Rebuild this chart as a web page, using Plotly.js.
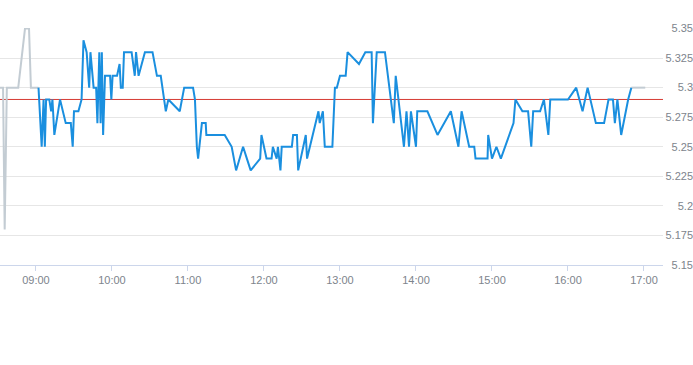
<!DOCTYPE html>
<html>
<head>
<meta charset="utf-8">
<script src="https://cdn.plot.ly/plotly-3.0.1.min.js"></script>
<style>
  html, body { margin: 0; padding: 0; background: #ffffff; }
  #chart { width: 693px; height: 365px; }
</style>
</head>
<body>
<div id="chart"></div>
<script>
// ---- data ----
const tradeDay = '2024-01-02 ';

const preTimes  = ['08:31:36','08:34:00','08:35:18','08:37:00','08:46:00','08:51:20','08:54:30','08:56:00','09:02:00'];
const preValues = [5.30, 5.30, 5.18, 5.30, 5.30, 5.35, 5.35, 5.30, 5.30];

const sessionTimes = [
  '09:02:00','09:04:30','09:06:00','09:07:00','09:08:00','09:10:30','09:12:00','09:13:00','09:14:30','09:19:00',
  '09:23:30','09:27:30','09:29:00','09:30:00','09:33:30','09:36:00','09:37:30','09:40:00','09:42:00','09:43:00',
  '09:45:30','09:47:30','09:48:30','09:50:00','09:51:00','09:52:00','09:53:00','09:54:30','09:58:30','09:59:30',
  '10:00:30','10:04:00','10:06:00','10:07:00','10:08:30','10:09:30','10:15:30','10:18:00','10:19:00','10:21:00',
  '10:23:30','10:26:00','10:32:00','10:35:30','10:38:30','10:40:00','10:42:30','10:44:30','10:53:30','10:57:00',
  '11:04:00','11:05:30','11:07:00','11:08:00','11:11:00','11:14:00','11:14:30','11:29:00','11:34:30','11:38:00',
  '11:43:30','11:46:30','11:49:30','11:57:00','11:58:00','12:02:00','12:06:00','12:07:00','12:10:00','12:11:00',
  '12:13:00','12:14:00','12:22:00','12:23:00','12:26:00','12:27:00','12:33:00','12:34:00','12:43:00','12:44:00',
  '12:46:30','12:48:00','12:54:00','12:56:00','12:57:30','13:00:00','13:04:30','13:06:00','13:15:00','13:20:00',
  '13:25:00','13:26:00','13:29:00','13:35:30','13:42:30','13:44:00','13:50:30','13:52:30','13:54:30','13:56:00',
  '14:00:00','14:01:00','14:09:00','14:17:00','14:27:30','14:33:30','14:36:00','14:42:00','14:46:00','14:47:00',
  '14:56:30','14:57:00','15:00:00','15:03:30','15:07:00','15:17:00','15:18:30','15:24:00','15:28:30','15:31:00',
  '15:32:30','15:38:00','15:41:00','15:44:30','15:46:00','16:00:00','16:06:30','16:11:30','16:15:30','16:22:00',
  '16:28:30','16:32:00','16:35:30','16:37:00','16:39:00','16:42:00','16:47:30','16:50:00'
];
const sessionValues = [
  5.30,5.25,5.29,5.25,5.29,5.29,5.28,5.29,5.26,5.29,
  5.27,5.27,5.25,5.28,5.28,5.29,5.34,5.33,5.30,5.33,
  5.30,5.30,5.27,5.33,5.27,5.33,5.26,5.31,5.31,5.29,
  5.31,5.31,5.32,5.30,5.30,5.33,5.33,5.31,5.33,5.31,
  5.32,5.33,5.33,5.31,5.31,5.30,5.28,5.29,5.28,5.30,
  5.30,5.29,5.25,5.24,5.27,5.27,5.26,5.26,5.25,5.23,
  5.25,5.24,5.23,5.24,5.26,5.24,5.24,5.25,5.24,5.25,
  5.23,5.25,5.25,5.26,5.26,5.23,5.26,5.24,5.28,5.27,
  5.28,5.25,5.25,5.30,5.30,5.31,5.31,5.33,5.32,5.33,
  5.33,5.27,5.33,5.33,5.27,5.31,5.25,5.28,5.25,5.28,
  5.25,5.28,5.28,5.26,5.28,5.25,5.28,5.25,5.25,5.24,
  5.24,5.26,5.24,5.25,5.24,5.27,5.29,5.28,5.28,5.25,
  5.28,5.28,5.29,5.26,5.29,5.29,5.30,5.28,5.30,5.27,
  5.27,5.29,5.29,5.27,5.29,5.26,5.29,5.30
];

const postTimes  = ['16:50:00','17:01:00'];
const postValues = [5.30, 5.30];

const referencePrice = 5.29;

const yTickValues = [5.15, 5.175, 5.2, 5.225, 5.25, 5.275, 5.3, 5.325, 5.35];
const yTickLabels = ['5.15','5.175','5.2','5.225','5.25','5.275','5.3','5.325','5.35'];

// ---- chart ----
const stamp = t => tradeDay + t;
const greyLine = { color: '#c3ccd3', width: 2 };
const blueLine = { color: '#1a8fdf', width: 2 };

const traces = [
  { x: preTimes.map(stamp), y: preValues, type: 'scatter', mode: 'lines', line: greyLine, hoverinfo: 'skip' },
  { x: postTimes.map(stamp), y: postValues, type: 'scatter', mode: 'lines', line: greyLine, hoverinfo: 'skip' },
  { x: sessionTimes.map(stamp), y: sessionValues, type: 'scatter', mode: 'lines', line: blueLine }
];

const labelFont = { family: 'Liberation Sans, Arial, sans-serif', size: 11, color: '#7d848c' };

const layout = {
  width: 693,
  height: 365,
  margin: { l: 0, r: 0, t: 28, b: 100, pad: 0 },
  paper_bgcolor: '#ffffff',
  plot_bgcolor: '#ffffff',
  showlegend: false,
  xaxis: {
    type: 'date',
    domain: [0, 0.9567],
    range: [stamp('08:31:36'), stamp('17:15:00')],
    tick0: stamp('09:00:00'),
    dtick: 3600000,
    tickformat: '%H:%M',
    ticks: 'outside',
    ticklen: 5,
    tickwidth: 1,
    tickcolor: '#ccd6eb',
    showline: true,
    linecolor: '#ccd6eb',
    linewidth: 1,
    showgrid: false,
    zeroline: false,
    tickfont: labelFont,
    automargin: false
  },
  yaxis: {
    range: [5.15, 5.35044],
    anchor: 'free',
    position: 1,
    side: 'left',
    tickmode: 'array',
    tickvals: yTickValues,
    ticktext: yTickLabels,
    ticks: '',
    showline: false,
    showgrid: true,
    gridcolor: '#e6e6e6',
    gridwidth: 1,
    zeroline: false,
    tickfont: labelFont,
    automargin: false
  },
  shapes: [
    { type: 'line', xref: 'paper', x0: 0, x1: 0.9567, yref: 'y', y0: referencePrice, y1: referencePrice,
      line: { color: '#d63a33', width: 1 }, layer: 'below' }
  ]
};

Plotly.newPlot('chart', traces, layout, { staticPlot: true, displayModeBar: false });
</script>
</body>
</html>
